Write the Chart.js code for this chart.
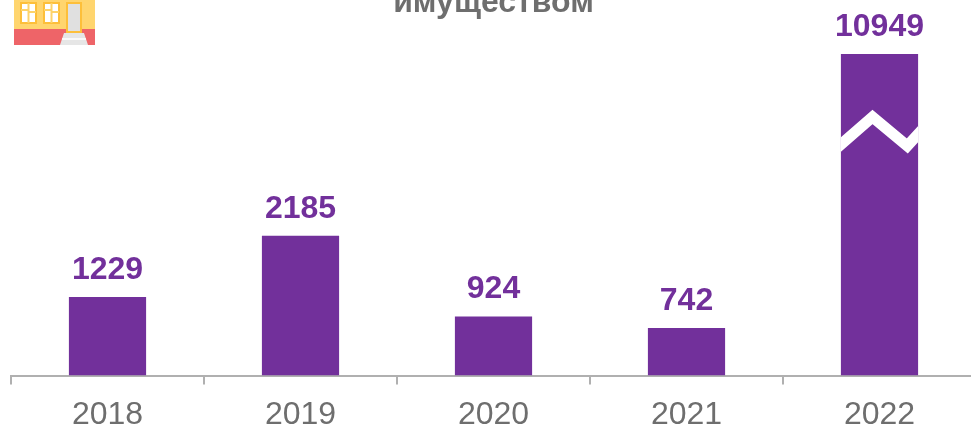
<!DOCTYPE html>
<html lang="ru"><head><meta charset="utf-8">
<style>
html,body{margin:0;padding:0;background:#fff;width:971px;height:426px;overflow:hidden;position:relative}
#c{position:absolute;left:0;top:-40px}
#icon{position:absolute;left:14px;top:0;width:81px;height:45px}
</style>
<script src="https://cdn.jsdelivr.net/npm/chart.js@4"></script>
</head><body>
<canvas id="c" width="990" height="485"></canvas>
<svg id="icon" viewBox="0 0 81 45">
<rect width="81" height="45" fill="#ffd56e"/>
<rect y="29" width="81" height="16" fill="#ee6468"/>
<rect x="7" y="3" width="15" height="20" fill="#fff" stroke="#fdbf3a" stroke-width="2"/>
<rect x="30" y="3" width="15" height="20" fill="#fff" stroke="#fdbf3a" stroke-width="2"/>
<path d="M14.5 3V23M7 10H14.5M14.5 12H22M37.5 3V23M30 10H37.5M37.5 12H45" stroke="#fdd36a" stroke-width="2" fill="none"/>
<rect x="53" y="3" width="14" height="29" fill="#e0e0e0" stroke="#fdbf3a" stroke-width="2"/>
<path d="M50 33H70L74 45H46Z" fill="#e6e6e6"/><path d="M48 39H72" stroke="#fff" stroke-width="1.5"/>
</svg>
<script>
const categories = ['2018','2019','2020','2021','2022'];
const seriesValues = [1229,2185,924,742,10949];
const titleText = 'имуществом';
const barColor = '#72309b';
const greyText = '#6e6e6e';
const axisColor = '#b0b0b0';

class BrokenScale extends Chart.LinearScale {
  toLinear(v){const b=this.options.breakAt,f=this.options.factor;return v<=b?v:b+(v-b)*f;}
  getPixelForValue(v){return this.getPixelForDecimal((this.toLinear(v)-this.toLinear(this.min))/(this.toLinear(this.max)-this.toLinear(this.min)));}
}
BrokenScale.id='broken';
BrokenScale.defaults=Chart.LinearScale.defaults;
Chart.register(BrokenScale);

const decorations={id:'decorations',afterDatasetsDraw(chart){
  const ctx=chart.ctx,meta=chart.getDatasetMeta(0);
  ctx.save();
  ctx.fillStyle=barColor;ctx.font='bold 32px "Liberation Sans"';ctx.textAlign='center';ctx.textBaseline='alphabetic';
  meta.data.forEach((b,i)=>ctx.fillText(String(seriesValues[i]),b.x,b.y-18));
  const b=meta.data[4],l=b.x-b.width/2,w=b.width,t=b.y;
  ctx.beginPath();ctx.rect(l,t,w,b.base-t);ctx.clip();
  ctx.strokeStyle='#fff';ctx.lineWidth=11;ctx.lineJoin='miter';
  ctx.beginPath();
  [[-0.05,94],[0.41,63],[0.86,92],[1.05,76]].forEach((p,i)=>{const x=l+p[0]*w,y=t+p[1];i?ctx.lineTo(x,y):ctx.moveTo(x,y);});
  ctx.stroke();
  ctx.restore();
}};

new Chart(document.getElementById('c'),{
  type:'bar',
  data:{labels:categories,datasets:[{data:seriesValues,backgroundColor:barColor,barPercentage:0.4,categoryPercentage:1}]},
  plugins:[decorations],
  options:{
    responsive:false,animation:false,
    layout:{padding:{left:11,right:14,top:0,bottom:0}},
    plugins:{legend:{display:false},tooltip:{enabled:false},
      title:{display:true,text:titleText,color:greyText,font:{family:'"Liberation Sans"',size:32,weight:'bold'},padding:{top:24,bottom:0}}},
    scales:{
      x:{grid:{drawOnChartArea:false,color:axisColor,lineWidth:2,tickLength:9,offset:true},
         border:{color:axisColor,width:2},
         ticks:{color:greyText,font:{family:'"Liberation Sans"',size:32},padding:11,maxRotation:0}},
      y:{type:'broken',display:false,min:0,max:12886,breakAt:3000,factor:0.2545}
    }
  }
});
</script>
</body></html>
